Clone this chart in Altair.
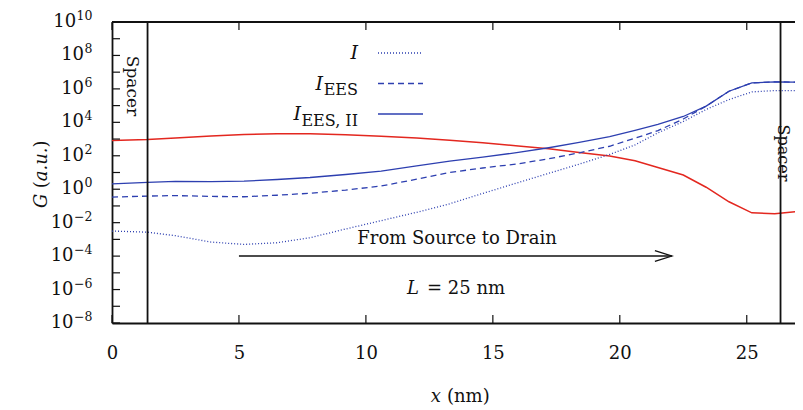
import altair as alt
import pandas as pd

# ---------------- data ----------------
x_nm = [0, 1.4, 2.5, 3.9, 5.2, 6.5, 7.8, 9.2, 10.6, 12.0, 13.3, 14.6, 16.0,
        17.2, 18.4, 19.6, 20.6, 21.5, 22.5, 23.4, 24.3, 25.2, 26.1, 27.2]
# log10 of G (a.u.)
log_red = [2.92, 2.97, 3.06, 3.18, 3.27, 3.31, 3.31, 3.26, 3.17, 3.06, 2.93, 2.78, 2.58,
           2.42, 2.2, 1.98, 1.7, 1.3, 0.85, 0.12, -0.75, -1.41, -1.47, -1.31]
log_I = [-2.5, -2.57, -2.78, -3.16, -3.3, -3.2, -2.9, -2.38, -1.88, -1.38, -0.87, -0.25, 0.4,
         0.95, 1.5, 2.08, 2.65, 3.37, 4.05, 4.77, 5.36, 5.82, 5.9, 5.9]
log_I_EES = [-0.47, -0.41, -0.38, -0.43, -0.45, -0.36, -0.24, -0.05, 0.19, 0.6, 1.0, 1.27, 1.52,
             1.82, 2.18, 2.57, 3.05, 3.5, 4.2, 4.97, 5.86, 6.36, 6.42, 6.40]
log_I_EES_II = [0.32, 0.41, 0.47, 0.46, 0.48, 0.58, 0.70, 0.88, 1.08, 1.4, 1.68, 1.92, 2.2,
                2.48, 2.8, 3.15, 3.52, 3.88, 4.35, 4.97, 5.86, 6.36, 6.42, 6.40]

spacer_x = [1.4, 26.33]
x_ticks = [0, 5, 10, 15, 20, 25]
y_exps = list(range(-8, 11))            # a tick at every decade
y_label_exps = list(range(-8, 11, 2))   # labelled every second decade
y_ticks = [10.0 ** e for e in y_exps]
arrow_from, arrow_to = 5.0, 22.05

# ---------------- style ----------------
FONT = "DejaVu Serif"
TXT = "#111111"
BLUE = "#2d3fb0"
RED = "#e3271f"
W, H = 683, 301

xs = alt.Scale(domain=[0, 26.9], nice=False, zero=False)
ys = alt.Scale(type="log", domain=[1e-8, 1e10], nice=False)

x_axis = alt.Axis(values=x_ticks, format="d", title=None, grid=False, ticks=False, tickSize=0,
                  labelFont=FONT, labelFontSize=18, labelColor=TXT, labelPadding=21,
                  labelFlush=False, domainColor=TXT, domainWidth=1.8)
y_axis = alt.Axis(values=y_ticks, labels=False, title=None, grid=False, ticks=False,
                  tickSize=0, domainColor=TXT, domainWidth=1.8)


def X(field="x"):
    return alt.X(f"{field}:Q", scale=xs, axis=x_axis)


def Y(field="y"):
    return alt.Y(f"{field}:Q", scale=ys, axis=y_axis)


def series(logs):
    return pd.DataFrame({"x": x_nm, "y": [10.0 ** v for v in logs]})


def line(logs, color, dash=None, width=1.3):
    kw = dict(color=color, strokeWidth=width, clip=True)
    if dash:
        kw["strokeDash"] = dash
    return alt.Chart(series(logs)).mark_line(**kw).encode(x=X(), y=Y())


one = pd.DataFrame({"a": [0]})


def txt(text, x, y, size=18, italic=False, align="center", angle=0, dy=0):
    kw = dict(text=text, font=FONT, fontSize=size, align=align, baseline="middle", color=TXT)
    if italic:
        kw["fontStyle"] = "italic"
    if angle:
        kw["angle"] = angle
    if dy:
        kw["dy"] = dy
    return alt.Chart(one).mark_text(**kw).encode(x=alt.value(x), y=alt.value(y))


layers = []

# curves
layers.append(line(log_red, RED, width=1.5))
layers.append(line(log_I, BLUE, dash=[1, 2]))
layers.append(line(log_I_EES, BLUE, dash=[6, 4]))
layers.append(line(log_I_EES_II, BLUE))

# inward ticks
yt = pd.DataFrame({"y": y_ticks})
layers.append(alt.Chart(yt).mark_rule(color=TXT, strokeWidth=1.2).encode(
    y=Y(), x=alt.value(0), x2=alt.value(8)))
xt = pd.DataFrame({"x": x_ticks})
layers.append(alt.Chart(xt).mark_rule(color=TXT, strokeWidth=1.2).encode(
    x=X(), y=alt.value(H), y2=alt.value(H - 8)))
layers.append(alt.Chart(xt).mark_rule(color=TXT, strokeWidth=1.2).encode(
    x=X(), y=alt.value(0), y2=alt.value(8)))
# top border
layers.append(alt.Chart(one).mark_rule(color=TXT, strokeWidth=1.8).encode(
    x=alt.value(0), x2=alt.value(W), y=alt.value(0)))

# y tick labels: "10" with a raised exponent
EXP_SIZE = 12.5
LABEL_RIGHT = -19.5
for e in y_label_exps:
    exp_txt = str(e).replace("-", "\u2212")
    ew = sum((0.838 if ch == "\u2212" else 0.636) * EXP_SIZE for ch in exp_txt)
    start = LABEL_RIGHT - ew
    d = pd.DataFrame({"y": [10.0 ** e]})
    layers.append(alt.Chart(d).mark_text(text="10", font=FONT, fontSize=18, align="right",
                                         baseline="middle", color=TXT).encode(
        y=Y(), x=alt.value(start - 0.5)))
    layers.append(alt.Chart(d).mark_text(text=exp_txt, font=FONT, fontSize=EXP_SIZE, align="left",
                                         baseline="middle", color=TXT, dy=-6).encode(
        y=Y(), x=alt.value(start)))

# spacer lines
layers.append(alt.Chart(pd.DataFrame({"x": spacer_x})).mark_rule(color=TXT, strokeWidth=1.8).encode(x=X()))

# arrow
layers.append(alt.Chart(pd.DataFrame({"x": [arrow_from], "x2": [arrow_to]})).mark_rule(
    color=TXT, strokeWidth=1.3).encode(x=X(), x2="x2:Q", y=alt.value(234)))
layers.append(alt.Chart(pd.DataFrame({"x": [arrow_to]})).mark_point(
    shape="M-1,-0.32L0,0L-1,0.32", filled=False, color=TXT, strokeWidth=1.3, size=1150, opacity=1
).encode(x=X(), y=alt.value(234)))

# annotations
layers.append(txt("Spacer", 20, 64, size=17, angle=90))
layers.append(txt("Spacer", 671, 131, size=16, angle=90))
layers.append(txt("From Source to Drain", 345, 217, size=18))
layers.append(txt("L", 307, 267, size=18, italic=True, align="right"))
layers.append(txt("= 25 nm", 315, 267, size=18, align="left"))

# x title
layers.append(txt("x", 329, 375, size=18, italic=True, align="right"))
layers.append(txt("(nm)", 335, 375, size=18, align="left"))

# y title (rotated, reading upward)
y0 = 186
pieces = [("G", True, 14.0 + 5.7), ("(", False, 7.0), ("a.u.", True, 33.8), (")", False, 7.0)]
for t, it, w in pieces:
    layers.append(txt(t, -70, y0, size=18, italic=it, align="left", angle=270))
    y0 -= w

# legend
leg_right = 246
rows = [("I", "", 31, [1, 2]), ("I", "EES", 61.5, [6, 4]), ("I", "EES, II", 92, None)]
sub_w = {"": 0, "EES": 31, "EES, II": 53}
for main, sub, yy, dash in rows:
    if sub:
        layers.append(txt(sub, leg_right, yy + 6.5, size=16, align="right"))
        layers.append(txt(main, leg_right - sub_w[sub] - 4, yy, size=19, italic=True, align="right"))
    else:
        layers.append(txt(main, leg_right, yy, size=19, italic=True, align="right"))
    kw = dict(color=BLUE, strokeWidth=1.3)
    if dash:
        kw["strokeDash"] = dash
    layers.append(alt.Chart(one).mark_rule(**kw).encode(
        x=alt.value(266), x2=alt.value(311), y=alt.value(yy)))

chart = alt.layer(*layers).properties(
    width=W, height=H,
    autosize=alt.AutoSizeParams(type="none"),
    padding={"left": 104, "top": 14, "right": 0, "bottom": 87},
).configure_view(stroke=None)

chart.save("out.html", embed_options={"renderer": "svg", "actions": False})
